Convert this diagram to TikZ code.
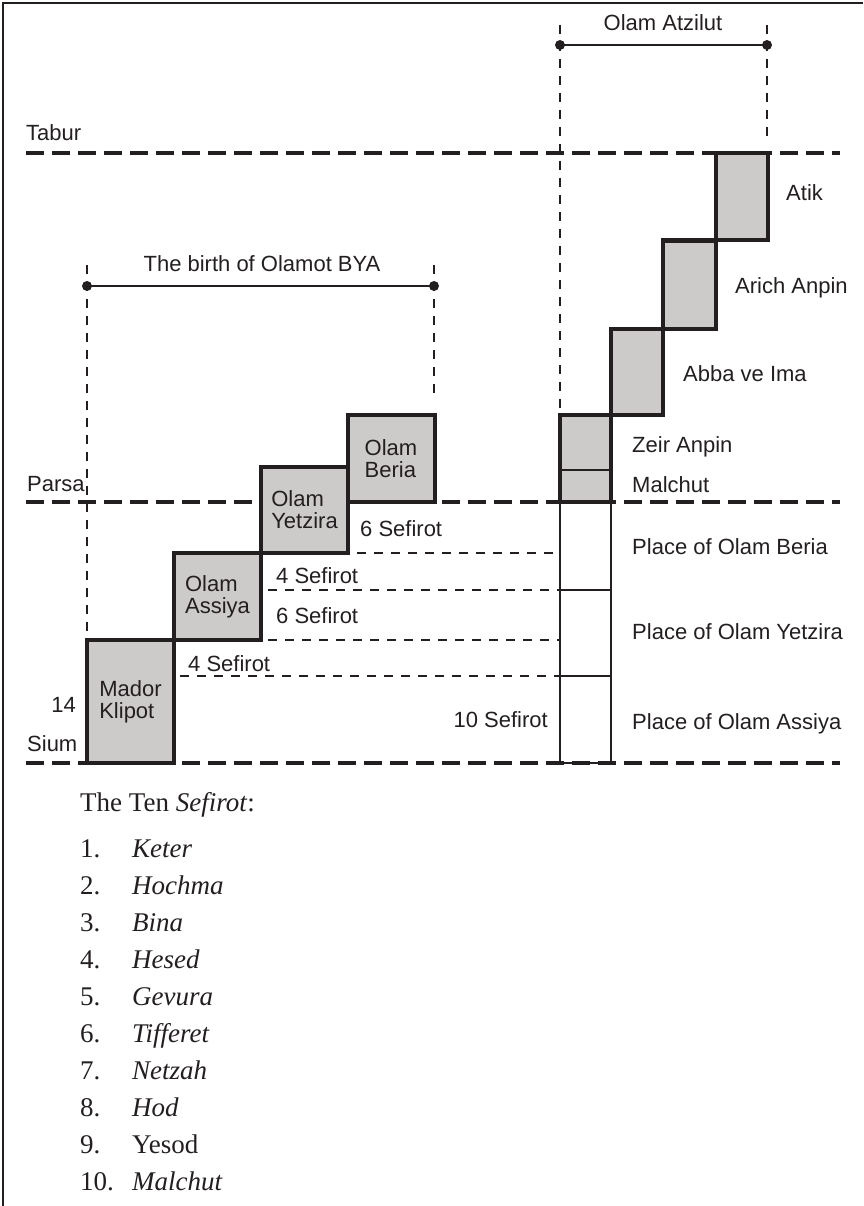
\documentclass[tikz,border=0pt]{standalone}
\usepackage{fontspec}
\setsansfont{Liberation Sans}
\newfontfamily\listfont{Liberation Serif}
\definecolor{ink}{HTML}{231F20}
\definecolor{boxgray}{HTML}{CDCACA}
\begin{document}
\begin{tikzpicture}[x=1pt,y=-1pt,
  lbl/.style={font=\sffamily\fontsize{22}{22}\selectfont, text=ink, inner sep=0pt},
  worldbox/.style={draw=ink, fill=boxgray, line width=4pt, inner sep=0pt,
    font=\sffamily\fontsize{22}{22}\selectfont, text=ink, align=left},
  bigdash/.style={draw=ink, line width=4.5pt, dash pattern=on 18pt off 8pt},
  thindash/.style={draw=ink, line width=1.8pt, dash pattern=on 9pt off 8pt},
  thinline/.style={draw=ink, line width=1.8pt},
  dimline/.style={draw=ink, line width=1.8pt},
  dotc/.style={fill=ink},
  listtxt/.style={font=\listfont\fontsize{27}{27}\selectfont, text=ink, inner sep=0pt},
]
\useasboundingbox (0,0) rectangle (863,1206);
% frame
\coordinate (fTL) at (3,3); \coordinate (fTR) at (863,3); \coordinate (fBL) at (3,1206);
\draw[ink, line width=2.5pt] (fTR) -- (fTL) -- (fBL);

% thick dashed level lines
\coordinate (taburL) at (26,153); \coordinate (taburR) at (840,153);
\coordinate (parsaL) at (26,502); \coordinate (parsaR) at (840,502);
\coordinate (siumL) at (26,763);  \coordinate (siumR) at (840,763);
\draw[bigdash] (taburL) -- (taburR);
\draw[bigdash] (parsaL) -- (parsaR);
\draw[bigdash] (siumL) -- (siumR);

% Olam Atzilut dimension
\coordinate (atzT1) at (560,25); \coordinate (atzB1) at (560,415);
\coordinate (atzT2) at (767,25); \coordinate (atzB2) at (767,142);
\draw[thindash] (atzT1) -- (atzB1);
\draw[thindash] (atzT2) -- (atzB2);
\coordinate (atzD1) at (560,45); \coordinate (atzD2) at (767,45);
\draw[dimline] (atzD1) -- (atzD2);
\fill[dotc] (atzD1) circle (5pt);
\fill[dotc] (atzD2) circle (5pt);
\node[lbl, anchor=base] (atzlbl) at (663,31) {Olam Atzilut};

% birth of BYA dimension
\coordinate (byaT1) at (87,265); \coordinate (byaB1) at (87,640);
\coordinate (byaT2) at (434,265); \coordinate (byaB2) at (434,398);
\draw[thindash] (byaT1) -- (byaB1);
\draw[thindash] (byaT2) -- (byaB2);
\coordinate (byaD1) at (87,286); \coordinate (byaD2) at (434,286);
\draw[dimline] (byaD1) -- (byaD2);
\fill[dotc] (byaD1) circle (5pt);
\fill[dotc] (byaD2) circle (5pt);
\node[lbl, anchor=base] (byalbl) at (262,271) {The birth of Olamot BYA};

% thin dashed sefirot lines
\coordinate (s1L) at (357,553); \coordinate (s1R) at (560,553);
\coordinate (s2L) at (268,590); \coordinate (s2R) at (560,590);
\coordinate (s3L) at (268,640); \coordinate (s3R) at (560,640);
\coordinate (s4L) at (180,676); \coordinate (s4R) at (560,676);
\draw[thindash] (s1L) -- (s1R);
\draw[thindash] (s2L) -- (s2R);
\draw[thindash] (s3L) -- (s3R);
\draw[thindash] (s4L) -- (s4R);

% column of places
\node[thinline, rectangle, minimum width=51pt, minimum height=261pt, inner sep=0pt] (col) at (585.5,632.5) {};
\coordinate (c1L) at (560,590); \coordinate (c1R) at (611,590);
\coordinate (c2L) at (560,676); \coordinate (c2R) at (611,676);
\draw[thinline] (c1L) -- (c1R);
\draw[thinline] (c2L) -- (c2R);

% right staircase (Atzilut)
\node[worldbox, minimum width=52pt, minimum height=87pt] (atik) at (742,197) {};
\node[worldbox, minimum width=53pt, minimum height=88pt] (arich) at (689.5,284.5) {};
\node[worldbox, minimum width=52pt, minimum height=86pt] (abba) at (637,372) {};
\node[worldbox, minimum width=51pt, minimum height=87pt] (zeir) at (585.5,458.5) {};
\coordinate (zmL) at (560,470); \coordinate (zmR) at (611,470);
\draw[thinline] (zmL) -- (zmR);

% left staircase (BYA)
\node[worldbox, minimum width=87pt, minimum height=123pt] (mador) at (130.5,701.5) {Mador\\Klipot};
\node[worldbox, minimum width=87pt, minimum height=87pt] (assiya) at (217.5,596.5) {Olam\\Assiya};
\node[worldbox, minimum width=87pt, minimum height=86pt] (yetzira) at (304.5,510) {Olam\\Yetzira};
\node[worldbox, minimum width=87pt, minimum height=87pt] (beria) at (391,458.5) {Olam\\Beria};

% level labels
\node[lbl, anchor=base west] (tabur) at (26,141) {Tabur};
\node[lbl, anchor=base west] (parsa) at (27,491) {Parsa};
\node[lbl, anchor=base east] (fourteen) at (76,712) {14};
\node[lbl, anchor=base west] (sium) at (27,751) {Sium};

% sefirot labels
\node[lbl, anchor=base west] (sf1) at (360,536) {6 Sefirot};
\node[lbl, anchor=base west] (sf2) at (276,583) {4 Sefirot};
\node[lbl, anchor=base west] (sf3) at (276,623) {6 Sefirot};
\node[lbl, anchor=base west] (sf4) at (188,671) {4 Sefirot};
\node[lbl, anchor=base east] (sf5) at (548,727) {10 Sefirot};

% right labels
\node[lbl, anchor=base west] (latik) at (786,201) {Atik};
\node[lbl, anchor=base west] (larich) at (735,293) {Arich Anpin};
\node[lbl, anchor=base west] (labba) at (683,381) {Abba ve Ima};
\node[lbl, anchor=base west] (lzeir) at (632,452) {Zeir Anpin};
\node[lbl, anchor=base west] (lmal) at (632,492) {Malchut};
\node[lbl, anchor=base west] (lpb) at (632,554) {Place of Olam Beria};
\node[lbl, anchor=base west] (lpy) at (632,639) {Place of Olam Yetzira};
\node[lbl, anchor=base west] (lpa) at (632,729) {Place of Olam Assiya};

% list
\node[listtxt, anchor=base west] (ttl) at (80,811) {The Ten \textit{Sefirot}:};
\foreach \nm [count=\i] in {\textit{Keter},\textit{Hochma},\textit{Bina},\textit{Hesed},\textit{Gevura},\textit{Tifferet},\textit{Netzah},\textit{Hod},Yesod,\textit{Malchut}}{
  \pgfmathsetmacro\yy{857+37*(\i-1)}
  \node[listtxt, anchor=base west] (num\i) at (80,\yy) {\i.};
  \node[listtxt, anchor=base west] (item\i) at (132,\yy) {\nm};
}
\end{tikzpicture}
\end{document}
